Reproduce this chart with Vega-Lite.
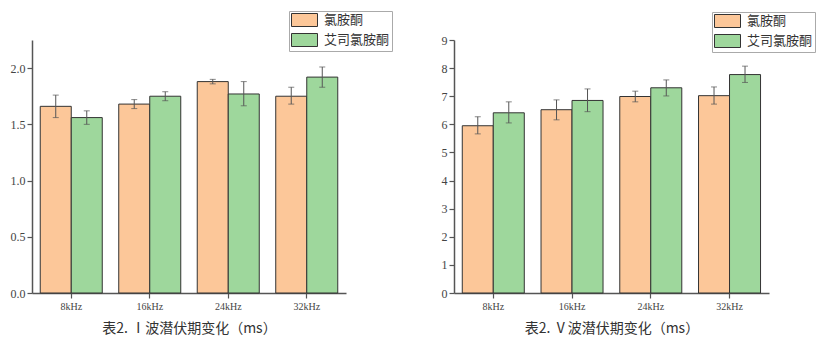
{
  "$schema": "https://vega.github.io/schema/vega-lite/v6.json",
  "padding": {"left": 5, "top": 10, "right": 5, "bottom": 5},
  "background": "white",
  "bounds": "flush",
  "spacing": 108,
  "datasets": {
    "wave1": [
      {"freq": "8kHz", "drug": "氯胺酮", "mean": 1.66, "lo": 1.56, "hi": 1.76},
      {"freq": "8kHz", "drug": "艾司氯胺酮", "mean": 1.56, "lo": 1.50, "hi": 1.62},
      {"freq": "16kHz", "drug": "氯胺酮", "mean": 1.68, "lo": 1.64, "hi": 1.72},
      {"freq": "16kHz", "drug": "艾司氯胺酮", "mean": 1.75, "lo": 1.71, "hi": 1.79},
      {"freq": "24kHz", "drug": "氯胺酮", "mean": 1.88, "lo": 1.86, "hi": 1.90},
      {"freq": "24kHz", "drug": "艾司氯胺酮", "mean": 1.77, "lo": 1.665, "hi": 1.88},
      {"freq": "32kHz", "drug": "氯胺酮", "mean": 1.75, "lo": 1.68, "hi": 1.83},
      {"freq": "32kHz", "drug": "艾司氯胺酮", "mean": 1.92, "lo": 1.83, "hi": 2.01}
    ],
    "wave5": [
      {"freq": "8kHz", "drug": "氯胺酮", "mean": 5.95, "lo": 5.66, "hi": 6.27},
      {"freq": "8kHz", "drug": "艾司氯胺酮", "mean": 6.41, "lo": 6.05, "hi": 6.80},
      {"freq": "16kHz", "drug": "氯胺酮", "mean": 6.52, "lo": 6.16, "hi": 6.87},
      {"freq": "16kHz", "drug": "艾司氯胺酮", "mean": 6.85, "lo": 6.45, "hi": 7.26},
      {"freq": "24kHz", "drug": "氯胺酮", "mean": 6.99, "lo": 6.80, "hi": 7.18},
      {"freq": "24kHz", "drug": "艾司氯胺酮", "mean": 7.30, "lo": 7.01, "hi": 7.58},
      {"freq": "32kHz", "drug": "氯胺酮", "mean": 7.02, "lo": 6.72, "hi": 7.33},
      {"freq": "32kHz", "drug": "艾司氯胺酮", "mean": 7.77, "lo": 7.49, "hi": 8.07}
    ]
  },
  "config": {
    "view": {"stroke": null},
    "axis": {
      "domainColor": "#555",
      "domainWidth": 1.5,
      "tickColor": "#555",
      "tickWidth": 1.2,
      "tickSize": 5,
      "grid": false,
      "labelOverlap": false,
      "labelFont": "Liberation Serif",
      "labelColor": "#444",
      "titleFont": "Noto Sans CJK SC",
      "titleFontWeight": "normal",
      "titleColor": "#333"
    },
    "legend": {
      "orient": "none",
      "title": null,
      "symbolType": "M-1,-1H3V1H-1Z",
      "symbolSize": 169,
      "symbolStrokeColor": "#333",
      "symbolStrokeWidth": 1,
      "symbolOpacity": 1,
      "labelFont": "Noto Sans CJK SC",
      "labelFontSize": 13,
      "labelColor": "#333",
      "labelOffset": 19,
      "padding": 2,
      "rowPadding": 2,
      "strokeColor": "#aaa",
      "fillColor": "white"
    }
  },
  "resolve": {"scale": {"color": "independent", "y": "independent", "x": "independent"}},
  "hconcat": [
    {
      "width": 314,
      "height": 253,
      "data": {"name": "wave1"},
      "encoding": {
        "x": {
          "field": "freq", "type": "nominal",
          "sort": ["8kHz", "16kHz", "24kHz", "32kHz"],
          "scale": {"paddingInner": 0.21, "paddingOuter": 0.105},
          "axis": {"labelAngle": 0, "labelFontSize": 10, "labelPadding": 3, "title": "表2.  Ⅰ波潜伏期变化（ms）", "titleFontSize": 14, "titlePadding": 10}
        },
        "xOffset": {"field": "drug", "type": "nominal", "sort": ["氯胺酮", "艾司氯胺酮"]}
      },
      "layer": [
        {
          "mark": {"type": "bar", "stroke": "#333", "strokeWidth": 1},
          "encoding": {
            "y": {"field": "mean", "type": "quantitative", "scale": {"domain": [0, 2.25], "nice": false},
              "axis": {"values": [0, 0.5, 1, 1.5, 2], "format": ".1f", "labelFontSize": 12, "labelPadding": 2, "title": null, "minExtent": 27, "maxExtent": 27}},
            "color": {"field": "drug", "type": "nominal", "sort": ["氯胺酮", "艾司氯胺酮"],
              "scale": {"range": ["#FCC799", "#9ED79C"]},
              "legend": {"legendX": 257, "legendY": -29}}
          }
        },
        {
          "mark": {"type": "rule", "color": "#555", "strokeWidth": 1},
          "encoding": {"y": {"field": "lo", "type": "quantitative",
              "axis": {"values": [0, 0.5, 1, 1.5, 2], "format": ".1f", "labelFontSize": 12, "labelPadding": 2, "title": null, "minExtent": 27, "maxExtent": 27}}, "y2": {"field": "hi"}}
        },
        {
          "mark": {"type": "tick", "color": "#555", "size": 6, "thickness": 1},
          "encoding": {"y": {"field": "lo", "type": "quantitative",
              "axis": {"values": [0, 0.5, 1, 1.5, 2], "format": ".1f", "labelFontSize": 12, "labelPadding": 2, "title": null, "minExtent": 27, "maxExtent": 27}}}
        },
        {
          "mark": {"type": "tick", "color": "#555", "size": 6, "thickness": 1},
          "encoding": {"y": {"field": "hi", "type": "quantitative",
              "axis": {"values": [0, 0.5, 1, 1.5, 2], "format": ".1f", "labelFontSize": 12, "labelPadding": 2, "title": null, "minExtent": 27, "maxExtent": 27}}}
        }
      ]
    },
    {
      "width": 315,
      "height": 253,
      "data": {"name": "wave5"},
      "encoding": {
        "x": {
          "field": "freq", "type": "nominal",
          "sort": ["8kHz", "16kHz", "24kHz", "32kHz"],
          "scale": {"paddingInner": 0.21, "paddingOuter": 0.105},
          "axis": {"labelAngle": 0, "labelFontSize": 10, "labelPadding": 3, "title": "表2.  Ⅴ波潜伏期变化（ms）", "titleFontSize": 14, "titlePadding": 10}
        },
        "xOffset": {"field": "drug", "type": "nominal", "sort": ["氯胺酮", "艾司氯胺酮"]}
      },
      "layer": [
        {
          "mark": {"type": "bar", "stroke": "#333", "strokeWidth": 1},
          "encoding": {
            "y": {"field": "mean", "type": "quantitative", "scale": {"domain": [0, 9], "nice": false},
              "axis": {"values": [0, 1, 2, 3, 4, 5, 6, 7, 8, 9], "format": "d", "labelFontSize": 12, "labelPadding": 2, "title": null}},
            "color": {"field": "drug", "type": "nominal", "sort": ["氯胺酮", "艾司氯胺酮"],
              "scale": {"range": ["#FCC799", "#9ED79C"]},
              "legend": {"legendX": 258, "legendY": -28}}
          }
        },
        {
          "mark": {"type": "rule", "color": "#555", "strokeWidth": 1},
          "encoding": {"y": {"field": "lo", "type": "quantitative",
              "axis": {"values": [0, 1, 2, 3, 4, 5, 6, 7, 8, 9], "format": "d", "labelFontSize": 12, "labelPadding": 2, "title": null}}, "y2": {"field": "hi"}}
        },
        {
          "mark": {"type": "tick", "color": "#555", "size": 6, "thickness": 1},
          "encoding": {"y": {"field": "lo", "type": "quantitative",
              "axis": {"values": [0, 1, 2, 3, 4, 5, 6, 7, 8, 9], "format": "d", "labelFontSize": 12, "labelPadding": 2, "title": null}}}
        },
        {
          "mark": {"type": "tick", "color": "#555", "size": 6, "thickness": 1},
          "encoding": {"y": {"field": "hi", "type": "quantitative",
              "axis": {"values": [0, 1, 2, 3, 4, 5, 6, 7, 8, 9], "format": "d", "labelFontSize": 12, "labelPadding": 2, "title": null}}}
        }
      ]
    }
  ]
}
